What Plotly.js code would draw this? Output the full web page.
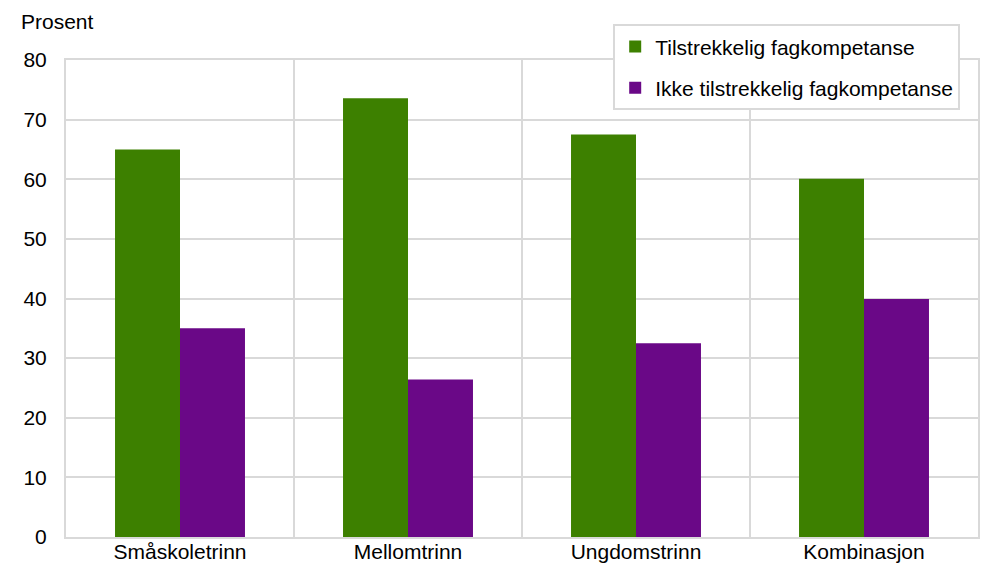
<!DOCTYPE html>
<html><head><meta charset="utf-8">
<script src="https://cdn.plot.ly/plotly-3.0.1.min.js"></script>
<style>body{margin:0;padding:0;background:#fff}#chart{width:985px;height:565px}</style>
</head><body><div id="chart"></div>
<script>
const categories = ["Småskoletrinn", "Mellomtrinn", "Ungdomstrinn", "Kombinasjon"];
const seriesNames = ["Tilstrekkelig fagkompetanse", "Ikke tilstrekkelig fagkompetanse"];
const tilstrekkelig = [65.0, 73.6, 67.5, 60.1];
const ikkeTilstrekkelig = [35.0, 26.4, 32.5, 39.9];
const yTicks = [0, 10, 20, 30, 40, 50, 60, 70, 80];

const font = {family: "Arial, 'Liberation Sans', sans-serif", size: 21, color: "#000"};
const xIdx = categories.map((c, i) => i);
const boundaries = categories.slice(1).map((c, i) => i + 0.5);

const traces = [
  {type: "bar", x: xIdx, y: tilstrekkelig, name: seriesNames[0], legendgroup: "a",
   marker: {color: "#3d8000"}, hoverinfo: "y"},
  {type: "bar", x: xIdx, y: ikkeTilstrekkelig, name: seriesNames[1], legendgroup: "b",
   marker: {color: "#6a0887"}, hoverinfo: "y"},
  {type: "scatter", x: [], y: [], xaxis: "x2", showlegend: false}
];

const layout = {
  width: 985, height: 565,
  margin: {l: 66, r: 7, t: 60, b: 28},
  paper_bgcolor: "#fff", plot_bgcolor: "#fff",
  font: font,
  barmode: "group", bargap: 0.43, bargroupgap: 0,
  xaxis: {range: [-0.5, 3.5], tickvals: xIdx, ticktext: categories, showgrid: false,
          zeroline: false, showline: true, linecolor: "#d9d9d9", linewidth: 2, mirror: true,
          ticks: "", tickfont: font, ticklabelstandoff: -5, fixedrange: true},
  xaxis2: {overlaying: "x", range: [-0.5, 3.5], tickvals: boundaries, showgrid: true,
           gridcolor: "#d9d9d9", gridwidth: 2, showticklabels: false, ticks: "",
           zeroline: false, showline: false, side: "bottom"},
  yaxis: {range: [0, 80], tickvals: yTicks, showgrid: true, gridcolor: "#d9d9d9", gridwidth: 2,
          zeroline: false, showline: true, linecolor: "#d9d9d9", linewidth: 2, mirror: true,
          ticks: "", tickfont: font, ticklabelstandoff: 13, fixedrange: true},
  legend: {x: 0.6, y: 1.075, xanchor: "left", yanchor: "top", bgcolor: "#fff",
           bordercolor: "#d9d9d9", borderwidth: 2, font: font, traceorder: "grouped",
           tracegroupgap: 11, itemwidth: 30},
  annotations: [{text: "Prosent", xref: "paper", yref: "paper", x: -0.051, y: 1.08,
                 xanchor: "left", yanchor: "middle", showarrow: false, font: font}]
};

Plotly.newPlot("chart", traces, layout, {displayModeBar: false, staticPlot: true});
</script></body></html>
